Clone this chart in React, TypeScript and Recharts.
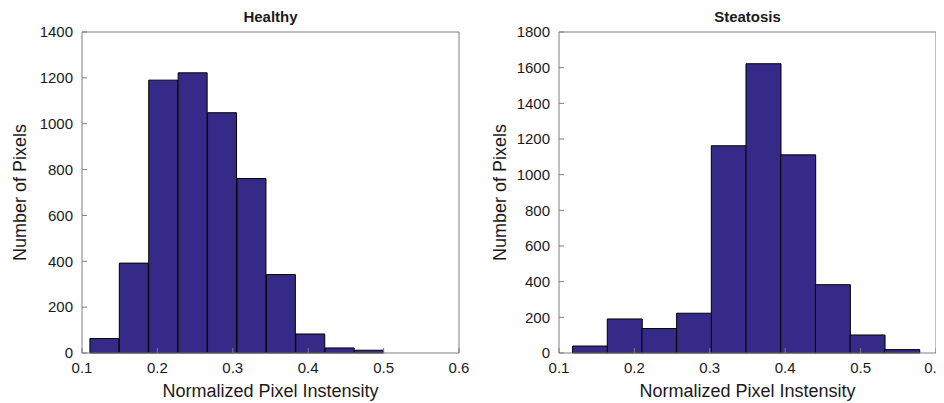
import React from "react";
import { BarChart, Bar, XAxis, YAxis, Label } from "recharts";

// bin centres and counts
const healthyBins = [0.13, 0.169, 0.208, 0.247, 0.286, 0.325, 0.364, 0.403, 0.442, 0.481];
const healthyCounts = [63, 392, 1190, 1222, 1048, 761, 342, 83, 22, 12];

const steatosisBins = [0.141, 0.187, 0.233, 0.279, 0.325, 0.371, 0.417, 0.463, 0.509, 0.555];
const steatosisCounts = [39, 191, 137, 223, 1162, 1622, 1111, 383, 101, 19];

const xTicks = [0.1, 0.2, 0.3, 0.4, 0.5, 0.6];
const healthyYTicks = [0, 200, 400, 600, 800, 1000, 1200, 1400];
const steatosisYTicks = [0, 200, 400, 600, 800, 1000, 1200, 1400, 1600, 1800];

const FONT = "'Liberation Sans', Arial, Helvetica, sans-serif";
const BAR_FILL = "#352a87";
const AXIS_COLOR = "#7f7f7f";
const TEXT_COLOR = "#1a1a1a";

interface HistogramProps {
  title: string;
  bins: number[];
  counts: number[];
  yTicks: number[];
  width: number;
  marginLeft: number;
  marginRight: number;
  yAxisWidth: number;
  yLabelX: number;
}

function Histogram({
  title,
  bins,
  counts,
  yTicks,
  width,
  marginLeft,
  marginRight,
  yAxisWidth,
  yLabelX,
}: HistogramProps) {
  const data = bins.map((x, i) => ({ x, count: counts[i] }));
  const yMax = yTicks[yTicks.length - 1];
  const tickStyle = { fill: TEXT_COLOR, fontSize: 15, fontFamily: FONT };

  return (
    <BarChart
      width={width}
      height={403}
      data={data}
      margin={{ top: 31, right: marginRight, bottom: 0, left: marginLeft }}
      barCategoryGap={0}
      barGap={0}
    >
      <XAxis
        xAxisId="bottom"
        dataKey="x"
        type="number"
        domain={[0.1, 0.6]}
        ticks={xTicks}
        allowDataOverflow
        height={50}
        stroke={AXIS_COLOR}
        tickSize={-5}
        tickMargin={14}
        tick={tickStyle}
        tickFormatter={(v) => String(v)}
      >
        <Label
          content={({ viewBox }: any) => (
            <text
              x={viewBox.x + viewBox.width / 2}
              y={viewBox.y + 44}
              textAnchor="middle"
              fontSize={18}
              fontFamily={FONT}
              fill={TEXT_COLOR}
            >
              Normalized Pixel Instensity
            </text>
          )}
        />
      </XAxis>
      <XAxis
        xAxisId="top"
        orientation="top"
        dataKey="x"
        type="number"
        domain={[0.1, 0.6]}
        ticks={xTicks}
        allowDataOverflow
        height={1}
        stroke={AXIS_COLOR}
        tickSize={-5}
        tick={false}
      >
        <Label
          content={({ viewBox }: any) => (
            <text
              x={viewBox.x + viewBox.width / 2}
              y={22}
              textAnchor="middle"
              fontSize={15}
              fontWeight="bold"
              fontFamily={FONT}
              fill={TEXT_COLOR}
            >
              {title}
            </text>
          )}
        />
      </XAxis>
      <YAxis
        yAxisId="left"
        domain={[0, yMax]}
        ticks={yTicks}
        width={yAxisWidth}
        stroke={AXIS_COLOR}
        tickSize={-5}
        tickMargin={14}
        tick={tickStyle}
      >
        <Label
          content={({ viewBox }: any) => {
            const cx = viewBox.x + yLabelX;
            const cy = viewBox.y + viewBox.height / 2;
            return (
              <text
                x={cx}
                y={cy}
                transform={`rotate(-90, ${cx}, ${cy})`}
                textAnchor="middle"
                fontSize={18}
                fontFamily={FONT}
                fill={TEXT_COLOR}
              >
                Number of Pixels
              </text>
            );
          }}
        />
      </YAxis>
      <YAxis
        yAxisId="right"
        orientation="right"
        domain={[0, yMax]}
        ticks={yTicks}
        width={1}
        stroke={AXIS_COLOR}
        tickSize={-5}
        tick={false}
      />
      <Bar
        xAxisId="bottom"
        yAxisId="left"
        dataKey="count"
        fill={BAR_FILL}
        stroke="#000000"
        strokeWidth={1}
        isAnimationActive={false}
      />
    </BarChart>
  );
}

export default function App() {
  return (
    <div
      style={{
        position: "relative",
        width: 944,
        height: 403,
        marginTop: -8,
        marginLeft: -8,
        background: "#ffffff",
      }}
    >
      <div style={{ position: "absolute", left: 0, top: 0 }}>
        <Histogram
          title="Healthy"
          bins={healthyBins}
          counts={healthyCounts}
          yTicks={healthyYTicks}
          width={470}
          marginLeft={10}
          marginRight={10}
          yAxisWidth={72}
          yLabelX={16}
        />
      </div>
      <div style={{ position: "absolute", left: 470, top: 0 }}>
        <Histogram
          title="Steatosis"
          bins={steatosisBins}
          counts={steatosisCounts}
          yTicks={steatosisYTicks}
          width={474}
          marginLeft={10}
          marginRight={7}
          yAxisWidth={79}
          yLabelX={26}
        />
      </div>
    </div>
  );
}
